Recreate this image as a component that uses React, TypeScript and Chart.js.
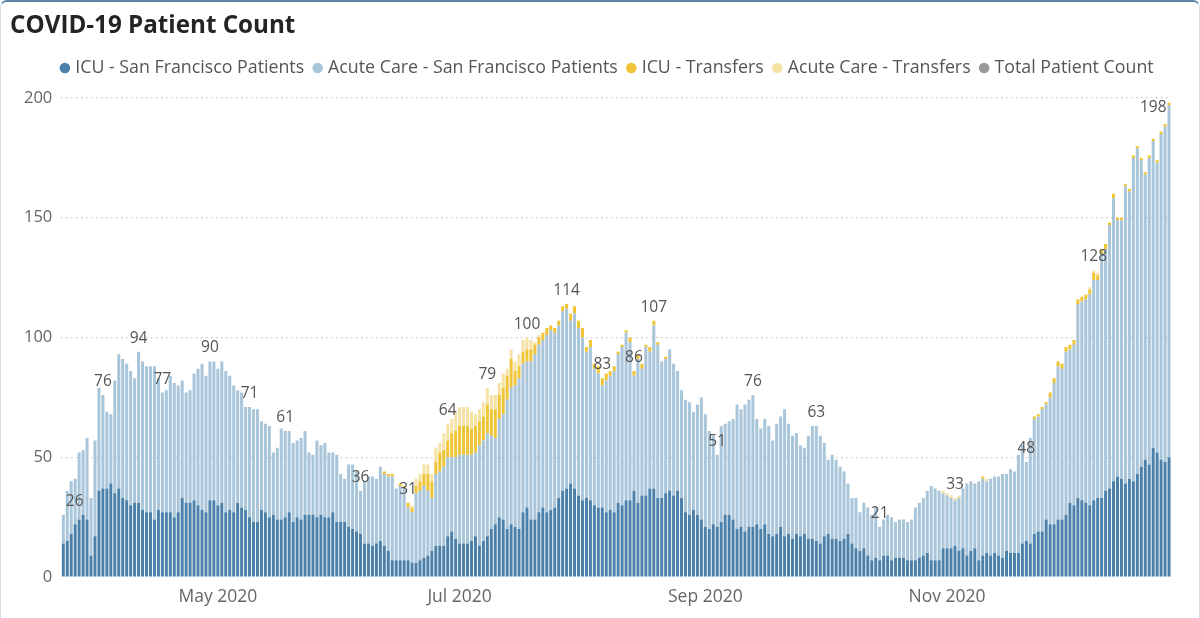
import React, { useEffect, useRef } from 'react';
import { Chart, registerables } from 'chart.js';

Chart.register(...registerables);

// ---------- DATA ----------
const startDate = '2020-03-23';

// ICU - San Francisco Patients (daily, 2020-03-23 .. 2020-12-27)
const icuSF: number[] = [
  14, 15, 18, 22, 24, 26, 24, 9, 17, 36, 37, 37, 39, 35, 37, 33, 32, 30, 31, 31,
  28, 27, 27, 24, 28, 27, 27, 27, 25, 27, 33, 31, 31, 32, 30, 28, 27, 32, 32, 30,
  31, 27, 28, 27, 31, 29, 28, 25, 23, 23, 28, 27, 25, 26, 24, 24, 25, 27, 23, 25,
  24, 26, 26, 26, 25, 26, 25, 25, 27, 23, 23, 23, 21, 20, 19, 18, 14, 14, 13, 14,
  15, 13, 11, 7, 7, 7, 7, 7, 6, 6, 7, 8, 9, 11, 13, 13, 13, 17, 19, 16,
  14, 14, 14, 15, 17, 13, 15, 17, 20, 22, 25, 24, 20, 22, 21, 20, 27, 29, 24, 24,
  27, 29, 27, 28, 29, 33, 36, 37, 39, 37, 34, 32, 33, 32, 30, 29, 29, 27, 28, 27,
  31, 30, 32, 32, 36, 31, 34, 34, 37, 37, 33, 33, 35, 36, 34, 36, 33, 27, 26, 28,
  26, 24, 21, 20, 22, 21, 23, 26, 26, 24, 20, 21, 19, 21, 21, 22, 20, 22, 18, 17,
  18, 21, 17, 18, 16, 18, 17, 18, 16, 16, 15, 14, 17, 18, 16, 16, 15, 16, 18, 14,
  12, 11, 12, 9, 7, 8, 7, 9, 9, 7, 8, 8, 8, 7, 7, 7, 8, 9, 10, 7,
  7, 7, 12, 12, 12, 13, 11, 12, 9, 11, 12, 7, 9, 10, 9, 10, 9, 8, 11, 10,
  10, 10, 14, 15, 14, 18, 19, 19, 24, 22, 22, 24, 24, 26, 31, 30, 33, 32, 31, 30,
  32, 33, 33, 36, 37, 40, 42, 41, 39, 41, 40, 43, 46, 49, 47, 54, 52, 49, 48, 50,
];

// Acute Care - San Francisco Patients
const acuteSF: number[] = [
  12, 21, 22, 19, 28, 27, 34, 24, 40, 43, 39, 32, 29, 47, 56, 58, 57, 56, 52, 63,
  62, 61, 61, 64, 55, 50, 51, 57, 56, 53, 49, 46, 47, 53, 57, 61, 57, 58, 58, 57,
  59, 59, 56, 53, 47, 48, 43, 46, 47, 47, 37, 37, 38, 26, 30, 38, 36, 34, 33, 32,
  34, 35, 26, 25, 32, 29, 31, 27, 25, 28, 20, 18, 26, 27, 25, 18, 26, 28, 29, 27,
  31, 30, 31, 35, 30, 31, 30, 22, 21, 29, 29, 30, 27, 22, 30, 31, 33, 33, 31, 34,
  37, 37, 37, 36, 35, 42, 42, 43, 39, 36, 41, 44, 54, 57, 59, 63, 62, 61, 66, 69,
  70, 70, 74, 75, 73, 72, 75, 75, 68, 73, 70, 68, 61, 64, 57, 56, 51, 55, 56, 59,
  62, 66, 70, 66, 48, 60, 53, 62, 57, 68, 64, 57, 56, 59, 55, 50, 45, 47, 47, 41,
  46, 51, 47, 41, 37, 30, 40, 38, 39, 42, 52, 49, 53, 53, 55, 44, 42, 44, 45, 40,
  46, 46, 53, 46, 43, 42, 38, 36, 43, 47, 48, 45, 39, 31, 35, 33, 31, 28, 21, 19,
  21, 16, 19, 20, 19, 21, 14, 15, 17, 18, 15, 16, 16, 16, 17, 22, 23, 24, 26, 31,
  30, 29, 23, 22, 21, 19, 22, 25, 30, 29, 27, 33, 32, 30, 32, 32, 33, 35, 32, 35,
  34, 41, 41, 33, 44, 48, 48, 51, 48, 53, 59, 64, 63, 68, 64, 67, 81, 83, 85, 88,
  92, 91, 102, 101, 110, 118, 107, 108, 124, 120, 135, 136, 128, 119, 128, 128, 121, 136, 140, 147,
];

// ICU - Transfers
const icuTransfers: number[] = [
  0, 0, 0, 0, 0, 0, 0, 0, 0, 0, 0, 0, 0, 0, 0, 0, 0, 0, 0, 0,
  0, 0, 0, 0, 0, 0, 0, 0, 0, 0, 0, 0, 0, 0, 0, 0, 0, 0, 0, 0,
  0, 0, 0, 0, 0, 0, 0, 0, 0, 0, 0, 0, 0, 0, 0, 0, 0, 0, 0, 0,
  0, 0, 0, 0, 0, 0, 0, 0, 0, 0, 0, 0, 0, 0, 0, 0, 0, 0, 0, 0,
  0, 1, 1, 1, 0, 1, 1, 2, 2, 3, 4, 5, 7, 7, 5, 8, 7, 7, 10, 11,
  12, 12, 12, 11, 11, 10, 10, 12, 11, 12, 10, 11, 10, 12, 6, 5, 5, 5, 5, 4,
  3, 3, 3, 2, 2, 2, 2, 2, 3, 3, 3, 4, 2, 3, 2, 3, 3, 3, 2, 2,
  1, 1, 1, 2, 2, 2, 2, 1, 2, 2, 1, 0, 1, 0, 0, 0, 0, 0, 0, 0,
  0, 0, 0, 0, 0, 0, 0, 0, 0, 0, 0, 0, 0, 0, 0, 0, 0, 0, 0, 0,
  0, 0, 0, 0, 0, 0, 0, 0, 0, 0, 0, 0, 0, 0, 0, 0, 0, 0, 0, 0,
  0, 0, 0, 0, 0, 0, 0, 0, 0, 0, 0, 0, 0, 0, 0, 0, 0, 0, 0, 0,
  0, 0, 0, 0, 0, 0, 0, 0, 0, 0, 0, 0, 1, 0, 0, 0, 0, 0, 0, 0,
  0, 0, 0, 0, 0, 1, 1, 1, 1, 2, 2, 2, 2, 2, 2, 2, 2, 2, 2, 2,
  3, 2, 2, 2, 1, 2, 1, 1, 1, 1, 1, 1, 1, 1, 1, 1, 1, 1, 1, 1,
];

// Acute Care - Transfers
const acuteTransfers: number[] = [
  0, 0, 0, 0, 0, 0, 0, 0, 0, 0, 0, 0, 0, 0, 0, 0, 0, 0, 0, 0,
  0, 0, 0, 0, 0, 0, 0, 0, 0, 0, 0, 0, 0, 0, 0, 0, 0, 0, 0, 0,
  0, 0, 0, 0, 0, 0, 0, 0, 0, 0, 0, 0, 0, 0, 0, 0, 0, 0, 0, 0,
  0, 0, 0, 0, 0, 0, 0, 0, 0, 0, 0, 0, 0, 0, 0, 0, 0, 0, 0, 0,
  0, 0, 0, 0, 0, 0, 0, 0, 1, 3, 3, 4, 4, 3, 6, 4, 7, 7, 6, 8,
  8, 8, 8, 7, 5, 5, 6, 7, 6, 6, 5, 6, 3, 4, 4, 5, 5, 5, 4, 1,
  1, 0, 0, 0, 0, 0, 0, 0, 0, 0, 0, 0, 0, 0, 0, 0, 0, 0, 0, 0,
  0, 0, 0, 0, 0, 0, 0, 0, 0, 0, 0, 0, 0, 0, 0, 0, 0, 0, 0, 0,
  0, 0, 0, 0, 0, 0, 0, 0, 0, 0, 0, 0, 0, 0, 0, 0, 0, 0, 0, 0,
  0, 0, 0, 0, 0, 0, 0, 0, 0, 0, 0, 0, 0, 0, 0, 0, 0, 0, 0, 0,
  0, 0, 0, 0, 0, 0, 0, 0, 0, 0, 0, 0, 0, 0, 0, 0, 0, 0, 0, 0,
  0, 0, 1, 1, 1, 1, 1, 0, 0, 0, 0, 0, 0, 1, 0, 0, 0, 0, 0, 0,
  0, 0, 0, 0, 0, 0, 0, 0, 0, 0, 0, 0, 0, 0, 0, 0, 0, 0, 0, 1,
  1, 1, 0, 0, 0, 0, 0, 0, 0, 0, 0, 0, 0, 0, 0, 0, 0, 0, 0, 0,
];

// days (index from start) where the total count is labelled
const labelDays: number[] = [0, 10, 19, 25, 37, 47, 56, 75, 87, 97, 107, 117, 127, 136, 144, 149, 165, 174, 190, 206, 225, 243, 260, 279];

// x-axis tick positions and their labels
const tickDates: string[] = ['2020-05-01', '2020-07-01', '2020-09-01', '2020-11-01'];
const tickLabels: string[] = ['May 2020', 'Jul 2020', 'Sep 2020', 'Nov 2020'];

const yTicks: number[] = [0, 50, 100, 150, 200];

const seriesNames: string[] = [
  'ICU - San Francisco Patients',
  'Acute Care - San Francisco Patients',
  'ICU - Transfers',
  'Acute Care - Transfers',
  'Total Patient Count',
];
const seriesColors: string[] = ['#4a80a9', '#a8c5da', '#f0c437', '#f6e2a4', '#9a9a9a'];

// ---------- DERIVED ----------
const dates: string[] = icuSF.map((_, i) => {
  const [y, m, d] = startDate.split('-').map(Number);
  return new Date(Date.UTC(y, m - 1, d + i)).toISOString().slice(0, 10);
});
const totals: number[] = icuSF.map((v, i) => v + acuteSF[i] + icuTransfers[i] + acuteTransfers[i]);

const FONT = '"Open Sans", "Noto Sans", sans-serif';
const CHART_TOP = 98;
const CHART_BOTTOM = 577;
const LEGEND_SHIFT = 18;

const layoutPlugin = {
  id: 'layoutTweaks',
  beforeInit(chart: any) {
    const legend = chart.legend;
    if (legend) {
      const orig = legend.fit;
      legend.fit = function () {
        orig.call(this);
        const titleBottom = chart.titleBlock ? chart.titleBlock.height : 0;
        this.height = CHART_TOP - titleBottom;
      };
    }
  },
  afterLayout(chart: any) {
    const legend = chart.legend;
    if (legend) {
      legend.left += LEGEND_SHIFT;
      legend.right += LEGEND_SHIFT;
    }
  },
};

const labelPlugin = {
  id: 'totalLabels',
  afterDatasetsDraw(chart: any) {
    const { ctx, chartArea, scales } = chart;
    const x = scales.x;
    const y = scales.y;
    ctx.save();
    ctx.font = `15.5px ${FONT}`;
    ctx.fillStyle = '#555555';
    ctx.textAlign = 'left';
    ctx.textBaseline = 'alphabetic';
    labelDays.forEach((i) => {
      const total = totals[i];
      const text = String(total);
      const w = ctx.measureText(text).width;
      const cx = x.getPixelForValue(i);
      let left = cx - w / 2;
      left = Math.max(chartArea.left + 4.5, Math.min(left, chartArea.right - 4.5 - w));
      let base = y.getPixelForValue(total) - 9;
      const capH = 11.5;
      if (base - capH < chartArea.top + 2) base = chartArea.top + 2 + capH;
      ctx.fillText(text, left, base);
    });
    ctx.restore();
  },
};

export default function App() {
  const canvasRef = useRef<HTMLCanvasElement>(null);

  useEffect(() => {
    document.body.style.margin = '0';
    const canvas = canvasRef.current;
    if (!canvas) return;
    const barCommon = {
      type: 'bar' as const,
      stack: 'patients',
      barPercentage: 0.76,
      categoryPercentage: 1.0,
      borderWidth: 0,
    };
    const chart = new Chart(canvas, {
      type: 'bar',
      data: {
        labels: dates,
        datasets: [
          { ...barCommon, label: seriesNames[0], data: icuSF, backgroundColor: seriesColors[0] },
          { ...barCommon, label: seriesNames[1], data: acuteSF, backgroundColor: seriesColors[1] },
          { ...barCommon, label: seriesNames[2], data: icuTransfers, backgroundColor: seriesColors[2] },
          { ...barCommon, label: seriesNames[3], data: acuteTransfers, backgroundColor: seriesColors[3] },
          {
            type: 'line' as const,
            label: seriesNames[4],
            data: totals,
            stack: 'total',
            showLine: false,
            pointRadius: 0,
            pointHoverRadius: 0,
            pointStyle: 'circle',
            backgroundColor: seriesColors[4],
            borderColor: seriesColors[4],
            borderWidth: 0,
          } as any,
        ],
      },
      options: {
        animation: false,
        responsive: false,
        devicePixelRatio: 1,
        layout: { padding: { left: 10, right: 29, top: 0, bottom: 0 } },
        plugins: {
          title: {
            display: true,
            text: 'COVID-19 Patient Count',
            align: 'start',
            color: '#252423',
            font: { family: FONT, size: 24.2, weight: 'bold' },
            padding: { top: 12, bottom: 6 },
          },
          legend: {
            display: true,
            position: 'top',
            align: 'center',
            labels: {
              usePointStyle: true,
              pointStyle: 'circle',
              boxWidth: 3,
              boxHeight: 7.5,
              padding: 12,
              color: '#555555',
              font: { family: FONT, size: 17.8 },
            },
          },
          tooltip: { enabled: false },
        },
        scales: {
          x: {
            type: 'category',
            stacked: true,
            grid: { display: false, drawTicks: false },
            border: { display: false },
            afterFit: (scale: any) => {
              scale.height = 618 - CHART_BOTTOM;
            },
            ticks: {
              autoSkip: false,
              maxRotation: 0,
              minRotation: 0,
              padding: 10,
              color: '#666666',
              font: { family: FONT, size: 17.5 },
              callback: (_v: any, idx: number) => {
                const k = tickDates.indexOf(dates[idx]);
                return k >= 0 ? tickLabels[k] : '';
              },
            },
          },
          y: {
            type: 'linear',
            stacked: true,
            min: yTicks[0],
            max: yTicks[yTicks.length - 1],
            afterFit: (scale: any) => {
              scale.width = 51.3;
            },
            afterBuildTicks: (scale: any) => {
              scale.ticks = yTicks.map((v) => ({ value: v }));
            },
            grid: {
              drawTicks: false,
              color: (c: any) => (c.tick && c.tick.value === 0 ? 'rgba(0,0,0,0)' : '#c8c8c8'),
              lineWidth: 1.2,
            },
            border: { display: false, dash: [1.5, 3.5] },
            ticks: {
              padding: 9,
              color: '#666666',
              font: { family: FONT, size: 16.5 },
            },
          },
        },
      },
      plugins: [layoutPlugin, labelPlugin],
    } as any);
    return () => chart.destroy();
  }, []);

  return (
    <div style={{ position: 'relative', width: 1200, height: 618, background: '#ffffff', overflow: 'hidden' }}>
      <canvas ref={canvasRef} width={1200} height={618} style={{ display: 'block', width: 1200, height: 618 }} />
      <div
        style={{
          position: 'absolute',
          left: 0,
          top: 0,
          width: 1200,
          height: 618,
          boxSizing: 'border-box',
          borderTop: '2px solid #5d84a6',
          borderLeft: '1px solid #d5dfe8',
          borderRight: '1px solid #d5dfe8',
          borderTopLeftRadius: 7,
          borderTopRightRadius: 7,
          pointerEvents: 'none',
        }}
      />
    </div>
  );
}
